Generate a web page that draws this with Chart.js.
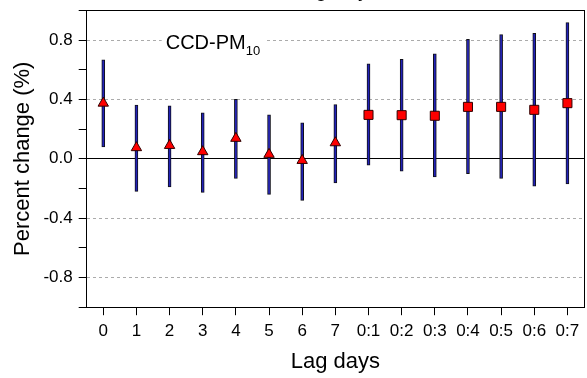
<!DOCTYPE html>
<html>
<head>
<meta charset="utf-8">
<script src="https://cdn.jsdelivr.net/npm/chart.js@4"></script>
<style>
  html, body { margin: 0; padding: 0; background: #fff; }
  #wrap { width: 587px; height: 378px; position: relative; }
</style>
</head>
<body>
<div id="wrap"><canvas id="lagChart"></canvas></div>
<script>
// lag days: single-day lags then cumulative (moving average) lags
const lagLabels = ['0', '1', '2', '3', '4', '5', '6', '7', '0:1', '0:2', '0:3', '0:4', '0:5', '0:6', '0:7'];
const estimate = [0.375, 0.075, 0.09, 0.048, 0.138, 0.03, -0.011, 0.108, 0.296, 0.294, 0.29, 0.35, 0.35, 0.33, 0.375];
const ciLow = [0.08, -0.22, -0.19, -0.226, -0.133, -0.24, -0.28, -0.163, -0.043, -0.083, -0.122, -0.1, -0.133, -0.185, -0.17];
const ciHigh = [0.667, 0.362, 0.357, 0.31, 0.40, 0.296, 0.242, 0.366, 0.64, 0.671, 0.708, 0.805, 0.837, 0.845, 0.918];
const yLabelTicks = [-0.8, -0.4, 0.0, 0.4, 0.8];

const FONT = "'Liberation Sans', Arial, sans-serif";
const r10 = v => Math.round(v * 10);

// pollutant label in the plot, grid line hidden behind it
const pollutantLabel = {
  id: 'pollutantLabel',
  beforeDatasetsDraw(chart) {
    const { ctx, chartArea } = chart;
    const x = chartArea.left + 79, y = chartArea.top + 33;
    ctx.save();
    ctx.font = '20px ' + FONT;
    const w = ctx.measureText('CCD-PM').width;
    ctx.fillStyle = '#fff';
    ctx.fillRect(x - 4, y - 12, w + 24, 26);
    ctx.fillStyle = '#000';
    ctx.textBaseline = 'middle';
    ctx.fillText('CCD-PM', x, y);
    ctx.font = '13px ' + FONT;
    ctx.textBaseline = 'alphabetic';
    ctx.fillText('10', x + w, y + 12);
    ctx.restore();
  }
};

new Chart(document.getElementById('lagChart'), {
  type: 'bar',
  data: {
    labels: lagLabels,
    datasets: [
      {
        type: 'line',
        label: 'Estimate',
        data: estimate,
        showLine: false,
        pointStyle: lagLabels.map(l => l.includes(':') ? 'rect' : 'triangle'),
        pointRadius: lagLabels.map(l => l.includes(':') ? 6.4 : 6),
        pointBackgroundColor: '#ff0000',
        pointBorderColor: '#300000',
        pointBorderWidth: 1,
        xAxisID: 'x',
        yAxisID: 'y'
      },
      {
        type: 'bar',
        label: '95% CI',
        data: ciLow.map((lo, i) => [lo, ciHigh[i]]),
        backgroundColor: '#2222b8',
        borderColor: '#101018',
        borderWidth: 1,
        borderSkipped: false,
        barThickness: 3,
        xAxisID: 'x',
        yAxisID: 'y'
      }
    ]
  },
  options: {
    responsive: true,
    maintainAspectRatio: false,
    animation: false,
    layout: { autoPadding: false, padding: { top: -23, right: 3, bottom: 0, left: 0 } },
    plugins: { legend: { display: false }, tooltip: { enabled: false } },
    scales: {
      x: {
        position: 'bottom',
        offset: true,
        grid: { drawOnChartArea: false, offset: false, tickLength: 8, tickColor: '#000', color: '#000' },
        border: { color: '#000', width: 1 },
        ticks: { color: '#000', font: { family: FONT, size: 17 }, padding: 6, maxRotation: 0, autoSkip: false },
        title: { display: true, text: 'Lag days', color: '#000', font: { family: FONT, size: 22 }, padding: { top: 1, bottom: 3 } }
      },
      x2: {
        position: 'top',
        offset: true,
        grid: { drawOnChartArea: false, drawTicks: false },
        border: { color: '#000', width: 1 },
        ticks: { display: false },
        title: { display: true, text: 'Lag days', color: '#000', font: { family: FONT, size: 22 }, padding: { top: 0, bottom: 7 } }
      },
      y: {
        position: 'left',
        min: -1,
        max: 1,
        grid: {
          color: c => {
            const t = r10(c.tick.value);
            if (t === 0) return '#000';
            if (t % 4 === 0 && Math.abs(t) < 10) return '#ababab';
            return 'rgba(0,0,0,0)';
          },
          tickLength: 8,
          tickColor: '#000'
        },
        border: {
          color: '#000',
          width: 1,
          dash: c => (c.tick && r10(c.tick.value) !== 0) ? [3, 3] : []
        },
        ticks: {
          stepSize: 0.2,
          autoSkip: false,
          color: '#000',
          font: { family: FONT, size: 17, lineHeight: 0.5 },
          padding: 6,
          callback: v => yLabelTicks.some(t => r10(t) === r10(v)) ? v.toFixed(1) : ''
        },
        title: { display: true, text: 'Percent change (%)', color: '#000', font: { family: FONT, size: 22 }, padding: { top: 10, bottom: 1 } }
      },
      y2: {
        position: 'right',
        min: -1,
        max: 1,
        grid: { drawOnChartArea: false, drawTicks: false },
        border: { color: '#000', width: 1 },
        ticks: { display: false }
      }
    }
  },
  plugins: [pollutantLabel]
});
</script>
</body>
</html>
